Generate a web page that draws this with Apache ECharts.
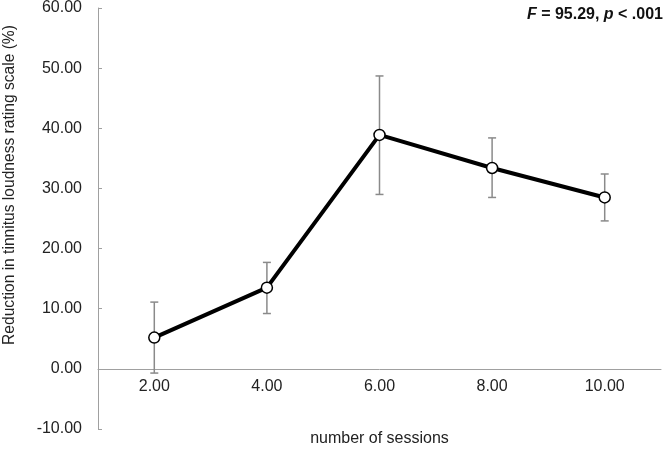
<!DOCTYPE html>
<html>
<head>
<meta charset="utf-8">
<script src="https://cdn.jsdelivr.net/npm/echarts@6/dist/echarts.min.js"></script>
<style>
html, body { margin: 0; padding: 0; background: #fff; }
#myChart { width: 666px; height: 450px; }
</style>
</head>
<body>
<div id="myChart"></div>
<script>
var sessions = ['2.00', '4.00', '6.00', '8.00', '10.00'];
var meanReduction = [5.2, 13.5, 38.9, 33.4, 28.5];
var errLower = [-0.7, 9.2, 29.0, 28.5, 24.6];
var errUpper = [11.1, 17.7, 48.7, 38.4, 32.4];

var errData = sessions.map(function (s, i) {
    return [i, errLower[i], errUpper[i]];
});

var myChart = echarts.init(document.getElementById('myChart'));
var option = {
    animation: false,
    textStyle: { fontFamily: 'Liberation Sans' },
    grid: {
        left: 98,
        right: 5,
        top: 8,
        bottom: 21,
        containLabel: false,
        outerBoundsMode: 'none'
    },
    graphic: [
        {
            type: 'text',
            x: 10,
            y: 185,
            rotation: Math.PI / 2,
            style: {
                text: 'Reduction in tinnitus loudness rating scale (%)',
                fontFamily: 'Liberation Sans',
                fontSize: 15.6,
                fill: '#222',
                align: 'center',
                verticalAlign: 'middle'
            }
        },
        {
            type: 'text',
            right: 3,
            top: 7,
            style: {
                text: '{i|F} = 95.29, {i|p} < .001',
                fontFamily: 'Liberation Sans',
                fontWeight: 'bold',
                fontSize: 16,
                fill: '#111',
                rich: {
                    i: {
                        fontFamily: 'Liberation Sans',
                        fontWeight: 'bold',
                        fontStyle: 'italic',
                        fontSize: 16
                    }
                }
            }
        }
    ],
    xAxis: {
        type: 'category',
        data: sessions,
        boundaryGap: true,
        offset: -60,
        name: 'number of sessions',
        nameLocation: 'middle',
        nameGap: 62,
        nameTextStyle: { fontSize: 16, color: '#222' },
        axisLine: { onZero: false, lineStyle: { color: '#a0a0a0', width: 1 } },
        axisTick: { inside: true, length: 5, lineStyle: { color: '#a0a0a0' } },
        axisLabel: { fontSize: 16, color: '#222', margin: 10 },
        splitLine: { show: false }
    },
    yAxis: {
        type: 'value',
        min: -10,
        max: 60,
        interval: 10,
        axisLine: { show: true, lineStyle: { color: '#a0a0a0', width: 1 } },
        axisTick: { show: true, inside: true, length: 4, lineStyle: { color: '#a0a0a0' } },
        axisLabel: {
            fontSize: 16,
            color: '#222',
            margin: 16,
            formatter: function (v) { return v.toFixed(2); }
        },
        splitLine: { show: false }
    },
    series: [
        {
            type: 'custom',
            z: 1,
            data: errData,
            renderItem: function (params, api) {
                var idx = api.value(0);
                var lo = api.coord([idx, api.value(1)]);
                var hi = api.coord([idx, api.value(2)]);
                var cap = 4;
                var style = { stroke: '#8a8a8a', lineWidth: 1.5 };
                return {
                    type: 'group',
                    children: [
                        { type: 'line', shape: { x1: lo[0], y1: lo[1], x2: hi[0], y2: hi[1] }, style: style },
                        { type: 'line', shape: { x1: lo[0] - cap, y1: lo[1], x2: lo[0] + cap, y2: lo[1] }, style: style },
                        { type: 'line', shape: { x1: hi[0] - cap, y1: hi[1], x2: hi[0] + cap, y2: hi[1] }, style: style }
                    ]
                };
            }
        },
        {
            type: 'line',
            z: 3,
            data: meanReduction,
            symbol: 'circle',
            symbolSize: 11,
            lineStyle: { color: '#000', width: 4 },
            itemStyle: { color: '#fff', borderColor: '#000', borderWidth: 1.5 }
        }
    ]
};

myChart.setOption(option);
</script>
</body>
</html>
